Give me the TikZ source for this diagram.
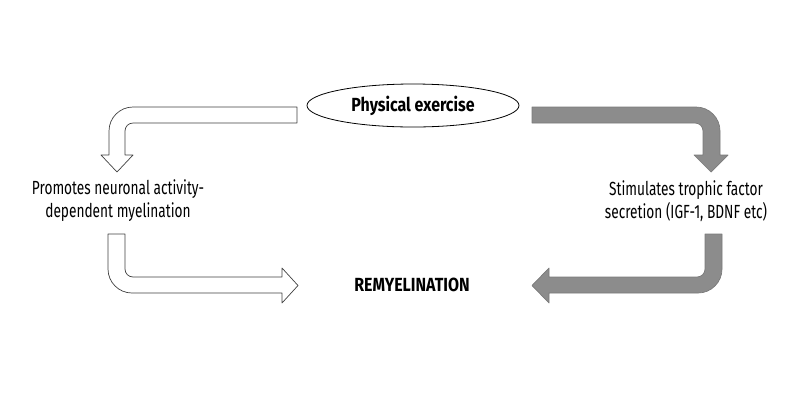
\documentclass[tikz,border=0pt]{standalone}
\usepackage{fontspec}
\setmainfont{Fira Sans}[FakeStretch=0.72, BoldFeatures={FakeStretch=0.84}]
\usetikzlibrary{shapes.geometric}
\definecolor{arrgray}{HTML}{8C8C8C}
\definecolor{arredge}{HTML}{7A7A7A}
\tikzset{
  hollow/.style={draw=black!75, fill=white, line width=0.7pt, line join=round},
  solid/.style={draw=arredge, fill=arrgray, line width=0.7pt, line join=round},
  lbl/.style={align=center, font=\fontsize{19}{23}\selectfont, inner sep=0pt},
  bold/.style={font=\fontsize{19}{22}\selectfont\bfseries, inner sep=0pt}
}
\begin{document}
\begin{tikzpicture}[x=1pt,y=-1pt]
\useasboundingbox (0,0) rectangle (800,400);
% nodes
\node[ellipse, draw, line width=0.8pt, minimum width=212pt, minimum height=43pt, inner sep=0pt] (ex) at (413,105.5) {};
\node[bold] (extext) at (413,106) {Physical exercise};
\node[lbl] (left) at (118,201) {Promotes neuronal activity-\\dependent myelination};
\node[lbl] (right) at (686,201) {Stimulates trophic factor\\secretion (IGF-1, BDNF etc)};
\node[bold] (remy) at (412,285) {REMYELINATION};
% top-left arrow (hollow)
\draw[hollow] (297,107) [rounded corners=24pt] -- (109,107) [sharp corners] -- (109,155) -- (101,155) -- (117,172) -- (133,155) -- (125,155) [rounded corners=8pt] -- (125,123) [sharp corners] -- (297,123) -- cycle;
% top-right arrow (gray)
\draw[solid] (532,107) [rounded corners=24pt] -- (720,107) [sharp corners] -- (720,155) -- (728,155) -- (711,172) -- (694,155) -- (703,155) [rounded corners=8pt] -- (703,123) [sharp corners] -- (532,123) -- cycle;
% bottom-left arrow (hollow)
\draw[hollow] (108,234) [rounded corners=24pt] -- (108,293) [sharp corners] -- (282,293) -- (282,303) -- (298,285.5) -- (282,268) -- (282,277) [rounded corners=8pt] -- (125,277) [sharp corners] -- (125,234) -- cycle;
% bottom-right arrow (gray)
\draw[solid] (722,234) [rounded corners=24pt] -- (722,293) [sharp corners] -- (549,293) -- (549,303) -- (532,285.5) -- (549,268) -- (549,277) [rounded corners=8pt] -- (705,277) [sharp corners] -- (705,234) -- cycle;
\end{tikzpicture}
\end{document}
